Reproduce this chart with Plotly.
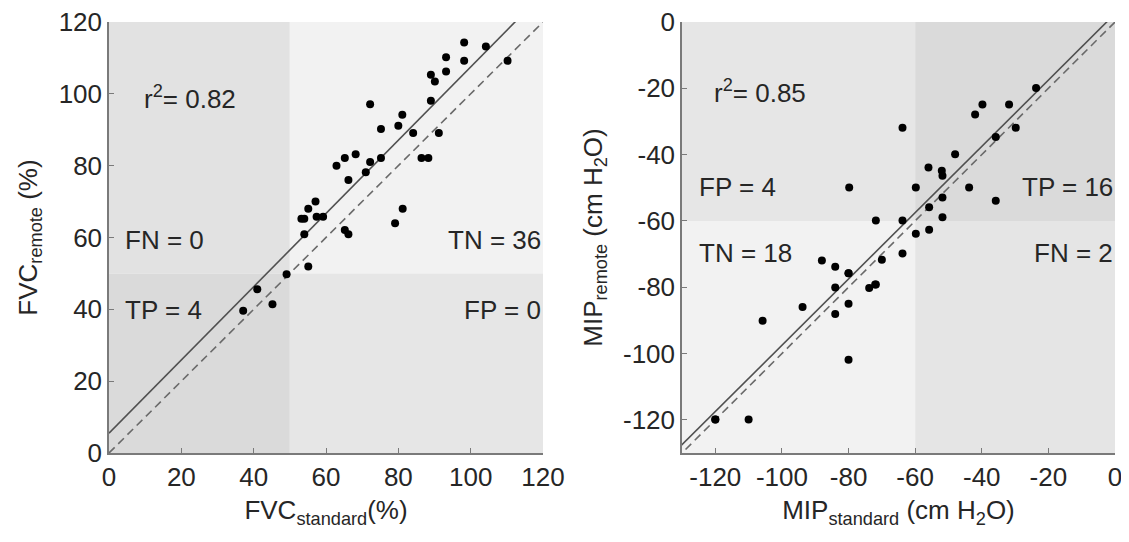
import plotly.graph_objects as go

# ---------------- data ----------------
fvc_standard = [98.2, 104.2, 110.2, 98.2, 93.2, 93.2, 89.0, 90.1, 89.0, 72.2,
                81.1, 80.0, 75.2, 84.1, 91.2, 86.4, 88.3, 75.2, 72.2, 71.0,
                68.2, 65.2, 62.9, 66.2, 57.1, 55.1, 53.2, 54.0, 57.4, 59.2,
                54.0, 65.2, 66.2, 81.2, 79.1, 55.1, 49.1, 41.0, 45.2, 37.1]
fvc_remote = [114.3, 113.2, 109.2, 109.2, 110.2, 106.2, 105.3, 103.4, 98.1, 97.1,
              94.2, 91.1, 90.2, 89.1, 89.1, 82.1, 82.1, 82.1, 81.0, 78.2,
              83.2, 82.1, 80.0, 76.0, 70.0, 68.0, 65.2, 65.2, 65.8, 65.8,
              60.9, 62.1, 60.9, 68.0, 64.0, 51.9, 49.8, 45.6, 41.4, 39.6]

mip_standard = [-23.7, -39.8, -42.0, -31.8, -29.8, -35.8, -63.8, -48.0, -56.0, -52.0,
                -51.8, -79.8, -59.8, -43.8, -35.8, -51.8, -55.8, -51.8, -71.8, -63.8,
                -59.8, -55.8, -63.8, -70.0, -88.0, -84.0, -80.0, -84.0, -73.8, -71.8,
                -80.0, -93.8, -84.0, -105.8, -80.0, -120.0, -110.0, -120.0, -80.0, -72.0]
mip_remote = [-19.9, -24.9, -27.9, -24.9, -31.9, -34.7, -31.9, -39.9, -43.9, -44.9,
              -46.4, -49.9, -49.9, -49.9, -53.9, -52.9, -55.9, -58.9, -59.9, -59.9,
              -63.9, -62.7, -69.8, -71.7, -71.9, -73.8, -75.8, -80.1, -80.2, -79.2,
              -85.0, -86.0, -88.1, -90.1, -101.9, -119.9, -119.9, -119.9, -75.8, -79.2]

fvc_fit_slope, fvc_fit_intercept = 1.02, 5.5
mip_fit_slope, mip_fit_intercept = 1.0, 2.5

fvc_cut = 50
mip_cut = -60

fvc_labels = {"r2": "r<sup>2</sup>= 0.82", "FN": "FN = 0", "TN": "TN = 36", "TP": "TP = 4", "FP": "FP = 0"}
mip_labels = {"r2": "r<sup>2</sup>= 0.85", "FP": "FP = 4", "TP": "TP = 16", "TN": "TN = 18", "FN": "FN = 2"}

fvc_ticks = [0, 20, 40, 60, 80, 100, 120]
fvc_ticktext = ["0", "20", "40", "60", "80", "100", "120"]
mip_ticks = [-120, -100, -80, -60, -40, -20, 0]
mip_ticktext = ["-120", "-100", "-80", "-60", "-40", "-20", "0"]
fvc_range = [0, 120]
mip_range = [-130, 0]

FONT = "Liberation Sans, Arial, Helvetica, sans-serif"
TXT = "#262626"
AX = "#7a7a7a"
FS = 26

# figure size (page body has an 8px margin)
W, H = 1113, 526
OFF = 8

fig = go.Figure()

# quadrant shading
def quad(xref, yref, x0, x1, y0, y1, color):
    fig.add_shape(type="rect", xref=xref, yref=yref, x0=x0, x1=x1, y0=y0, y1=y1,
                  fillcolor=color, line_width=0, layer="below")

quad("x", "y", fvc_range[0], fvc_cut, fvc_cut, fvc_range[1], "#e2e2e2")
quad("x", "y", fvc_cut, fvc_range[1], fvc_cut, fvc_range[1], "#f2f2f2")
quad("x", "y", fvc_range[0], fvc_cut, fvc_range[0], fvc_cut, "#dadada")
quad("x", "y", fvc_cut, fvc_range[1], fvc_range[0], fvc_cut, "#e6e6e6")

quad("x2", "y2", mip_range[0], mip_cut, mip_cut, mip_range[1], "#e6e6e6")
quad("x2", "y2", mip_cut, mip_range[1], mip_cut, mip_range[1], "#dadada")
quad("x2", "y2", mip_range[0], mip_cut, mip_range[0], mip_cut, "#f2f2f2")
quad("x2", "y2", mip_cut, mip_range[1], mip_range[0], mip_cut, "#e5e5e5")

# identity (dashed) and fit (solid) lines
fx = [fvc_range[0], fvc_range[1] + 10]
fig.add_trace(go.Scatter(x=fx, y=fx, mode="lines", line=dict(color="#6a6a6a", width=1.6, dash="8px,5px"),
                         xaxis="x", yaxis="y", hoverinfo="skip"))
fig.add_trace(go.Scatter(x=fx, y=[fvc_fit_slope * v + fvc_fit_intercept for v in fx], mode="lines",
                         line=dict(color="#505050", width=1.6), xaxis="x", yaxis="y", hoverinfo="skip"))
mx = [mip_range[0] - 10, mip_range[1] + 10]
fig.add_trace(go.Scatter(x=mx, y=mx, mode="lines", line=dict(color="#6a6a6a", width=1.6, dash="8px,5px"),
                         xaxis="x2", yaxis="y2", hoverinfo="skip"))
fig.add_trace(go.Scatter(x=mx, y=[mip_fit_slope * v + mip_fit_intercept for v in mx], mode="lines",
                         line=dict(color="#505050", width=1.6), xaxis="x2", yaxis="y2", hoverinfo="skip"))

# points
fig.add_trace(go.Scatter(x=fvc_standard, y=fvc_remote, mode="markers",
                         marker=dict(color="black", size=8), xaxis="x", yaxis="y"))
fig.add_trace(go.Scatter(x=mip_standard, y=mip_remote, mode="markers",
                         marker=dict(color="black", size=8), xaxis="x2", yaxis="y2"))

# annotations
def ann(xref, yref, x, y, text, anchor):
    fig.add_annotation(xref=xref, yref=yref, x=x, y=y, text=text, showarrow=False,
                       xanchor=anchor, yanchor="middle", font=dict(family=FONT, size=FS, color=TXT))

ann("x", "y", 9, 99, fvc_labels["r2"], "left")
ann("x", "y", 4, 59.3, fvc_labels["FN"], "left")
ann("x", "y", 120, 59.3, fvc_labels["TN"], "right")
ann("x", "y", 4, 39.8, fvc_labels["TP"], "left")
ann("x", "y", 120, 39.8, fvc_labels["FP"], "right")

ann("x2", "y2", -121, -21, mip_labels["r2"], "left")
ann("x2", "y2", -125.5, -49.8, mip_labels["FP"], "left")
ann("x2", "y2", 0, -49.8, mip_labels["TP"], "right")
ann("x2", "y2", -125.5, -69.6, mip_labels["TN"], "left")
ann("x2", "y2", 0, -69.6, mip_labels["FN"], "right")

axis_common = dict(showgrid=False, zeroline=False, showline=True, linecolor=AX, linewidth=1.5,
                   ticks="inside", ticklen=5, tickcolor=AX, tickwidth=1.2, mirror=False,
                   automargin=False, tickmode="array", ticklabeloverflow="allow",
                   tickfont=dict(family=FONT, size=FS, color=TXT))
title_font = dict(family=FONT, size=FS, color=TXT)

def dx(a, b):
    return [(a - OFF) / W, (b - OFF) / W]

def dy(top, bottom):
    return [1 - (bottom - OFF) / H, 1 - (top - OFF) / H]

fig.update_layout(
    width=W, height=H,
    margin=dict(l=0, r=0, t=0, b=0, autoexpand=False),
    paper_bgcolor="white", plot_bgcolor="rgba(0,0,0,0)",
    showlegend=False,
    xaxis=dict(domain=dx(109, 543), range=fvc_range, tickvals=fvc_ticks, ticktext=fvc_ticktext,
               anchor="y", title=dict(text="FVC<sub>standard</sub>(%)", font=title_font, standoff=10), **axis_common),
    yaxis=dict(domain=dy(22, 453), range=fvc_range, tickvals=fvc_ticks, ticktext=fvc_ticktext,
               anchor="x", title=dict(text="FVC<sub>remote</sub> (%)", font=title_font, standoff=14), **axis_common),
    xaxis2=dict(domain=dx(682, 1115), range=mip_range, tickvals=mip_ticks, ticktext=mip_ticktext,
                anchor="y2", title=dict(text="MIP<sub>standard</sub> (cm H<sub>2</sub>O)", font=title_font, standoff=10),
                **axis_common),
    yaxis2=dict(domain=dy(22, 453), range=mip_range, tickvals=mip_ticks, ticktext=mip_ticktext,
                anchor="x2", title=dict(text="MIP<sub>remote</sub> (cm H<sub>2</sub>O)", font=title_font, standoff=13),
                **axis_common),
)

fig.write_html("out.html")
